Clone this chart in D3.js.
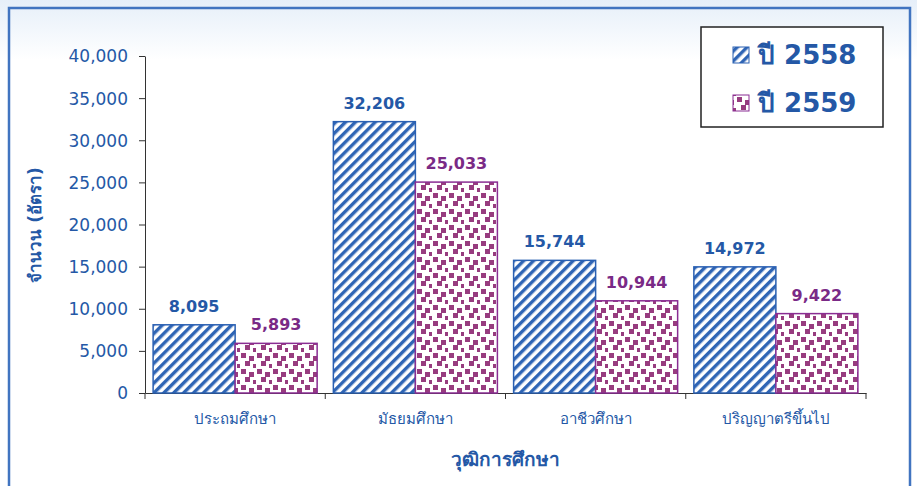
<!DOCTYPE html>
<html>
<head>
<meta charset="utf-8">
<style>
body { margin: 0; background: #fff; }
text { font-family: Tahoma, "DejaVu Sans", "Noto Sans", sans-serif; }
</style>
<script src="https://d3js.org/d3.v7.min.js"></script>
</head>
<body>
<svg width="917" height="486"></svg>
<script>
var categories = ["ประถมศึกษา", "มัธยมศึกษา", "อาชีวศึกษา", "ปริญญาตรีขึ้นไป"];
var seriesNames = ["ปี 2558", "ปี 2559"];
var values2558 = [8095, 32206, 15744, 14972];
var values2559 = [5893, 25033, 10944, 9422];
var yTicks = [0, 5000, 10000, 15000, 20000, 25000, 30000, 35000, 40000];

var blue = "#2458a6", purple = "#7a2a86";

var svg = d3.select("svg");
var defs = svg.append("defs");

// soft blue band across the top
var grad = defs.append("linearGradient").attr("id", "topfade")
    .attr("x1", 0).attr("y1", 0).attr("x2", 0).attr("y2", 1);
grad.append("stop").attr("offset", "0%").attr("stop-color", "#e6eff9");
grad.append("stop").attr("offset", "100%").attr("stop-color", "#ffffff");
svg.append("rect").attr("x", 0).attr("y", 0).attr("width", 917).attr("height", 60)
    .attr("fill", "url(#topfade)");

// stripes
var p1 = defs.append("pattern").attr("id", "stripes")
    .attr("patternUnits", "userSpaceOnUse").attr("width", 7).attr("height", 7)
    .attr("patternTransform", "rotate(45)");
p1.append("rect").attr("width", 7).attr("height", 7).attr("fill", "#fff");
p1.append("rect").attr("width", 3.4).attr("height", 7).attr("fill", "#2f65b5");

// dots
var p2 = defs.append("pattern").attr("id", "dots")
    .attr("patternUnits", "userSpaceOnUse").attr("width", 16).attr("height", 16);
p2.append("rect").attr("width", 16).attr("height", 16).attr("fill", "#fff");
[[1, 1], [9, 4], [5, 9], [13, 12]].forEach(function(d) {
  p2.append("rect").attr("x", d[0]).attr("y", d[1]).attr("width", 5).attr("height", 5)
      .attr("fill", "#973c7f");
});

// outer frame
svg.append("path").attr("d", "M9,486V8H910V486")
    .attr("fill", "none").attr("stroke", "#4174c0").attr("stroke-width", 2.5);

var x0 = d3.scaleBand().domain(categories).range([145, 866]).paddingInner(0.09).paddingOuter(0.045);
var x1 = d3.scaleBand().domain(seriesNames).range([0, x0.bandwidth()]);
var y = d3.scaleLinear().domain([0, 40000]).range([393, 56]);

var band = d3.scaleBand().domain(categories).range([145, 866]);

// axes
var yAxis = svg.append("g").attr("transform", "translate(145,0)")
    .call(d3.axisLeft(y).tickValues(yTicks).tickSize(6).tickSizeOuter(0).tickFormat(d3.format(",")));
yAxis.select(".domain").attr("stroke", "#333");
yAxis.selectAll(".tick line").attr("stroke", "#333");
yAxis.selectAll("text").attr("fill", blue).attr("font-size", 17)
    .attr("font-family", "Tahoma, 'DejaVu Sans', sans-serif").attr("x", -17).attr("dy", "0.35em");

var xAxis = svg.append("g").attr("transform", "translate(0,393)")
    .call(d3.axisBottom(band).tickSize(6).tickSizeOuter(0).tickFormat(""));
xAxis.select(".domain").attr("stroke", "#333");
xAxis.selectAll(".tick line").remove();
band.domain().forEach(function(c, i) {
  xAxis.append("line").attr("x1", band(c)).attr("x2", band(c)).attr("y1", 0).attr("y2", 6).attr("stroke", "#333");
});
xAxis.append("line").attr("x1", band.range()[1]).attr("x2", band.range()[1]).attr("y1", 0).attr("y2", 6).attr("stroke", "#333");

svg.append("g").selectAll("text").data(categories).join("text")
    .attr("x", function(d) { return band(d) + band.bandwidth() / 2; })
    .attr("y", 424).attr("text-anchor", "middle")
    .attr("font-family", "'Noto Sans', sans-serif")
    .attr("font-size", 15).attr("fill", blue).text(function(d) { return d; });

// bars
var series = [
  {name: seriesNames[0], values: values2558, fill: "url(#stripes)", stroke: "#2a60b2", label: blue},
  {name: seriesNames[1], values: values2559, fill: "url(#dots)", stroke: "#8a2d93", label: purple}
];

series.forEach(function(s) {
  var g = svg.append("g");
  g.selectAll("rect").data(s.values).join("rect")
      .attr("x", function(d, i) { return x0(categories[i]) + x1(s.name); })
      .attr("y", function(d) { return y(d); })
      .attr("width", x1.bandwidth())
      .attr("height", function(d) { return y(0) - y(d); })
      .attr("fill", s.fill).attr("stroke", s.stroke).attr("stroke-width", 1.5);
  g.selectAll("text").data(s.values).join("text")
      .attr("x", function(d, i) { return x0(categories[i]) + x1(s.name) + x1.bandwidth() / 2; })
      .attr("y", function(d) { return y(d) - 13; })
      .attr("text-anchor", "middle").attr("font-weight", "bold").attr("font-size", 16)
      .attr("fill", s.label).text(function(d) { return d3.format(",")(d); });
});

// axis titles
svg.append("text").attr("transform", "translate(41,225) rotate(-90)")
    .attr("text-anchor", "middle").attr("font-family", "'Noto Sans', sans-serif")
    .attr("font-weight", "bold").attr("font-size", 17).attr("fill", blue)
    .text("จำนวน (อัตรา)");
svg.append("text").attr("x", 505).attr("y", 466).attr("text-anchor", "middle")
    .attr("font-family", "'Noto Sans', sans-serif")
    .attr("font-weight", "bold").attr("font-size", 19).attr("fill", blue)
    .text("วุฒิการศึกษา");

// legend
var lg = svg.append("g");
lg.append("rect").attr("x", 701).attr("y", 27).attr("width", 182).attr("height", 100)
    .attr("fill", "#fff").attr("stroke", "#222").attr("stroke-width", 1.5);
series.forEach(function(s, i) {
  var yy = 55 + i * 48;
  lg.append("rect").attr("x", 733).attr("y", yy - 8).attr("width", 16).attr("height", 16)
      .attr("fill", s.fill).attr("stroke", s.stroke).attr("stroke-width", 1);
  lg.append("text").attr("x", 758).attr("y", yy).attr("dy", "0.36em")
      .attr("font-family", "'Noto Sans', sans-serif")
      .attr("font-weight", "bold").attr("font-size", 26).attr("fill", blue).text(s.name);
});
</script>
</body>
</html>
